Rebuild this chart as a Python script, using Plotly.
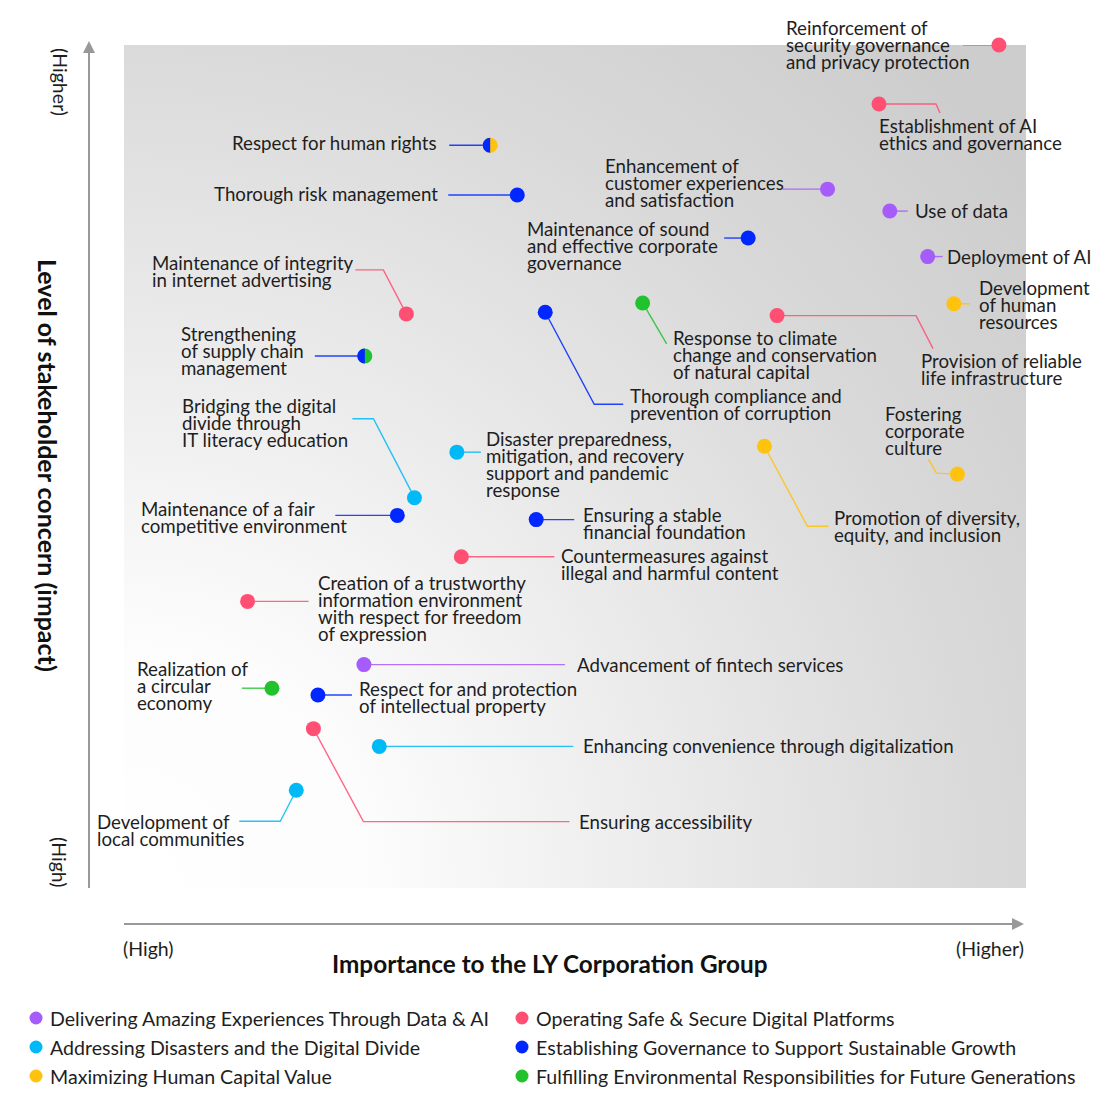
import base64
import plotly.graph_objects as go

# ---------------- data ----------------
names = [
    "Reinforcement of<br>security governance<br>and privacy protection",
    "Establishment of AI<br>ethics and governance",
    "Respect for human rights",
    "Thorough risk management",
    "Enhancement of<br>customer experiences<br>and satisfaction",
    "Use of data",
    "Maintenance of sound<br>and effective corporate<br>governance",
    "Deployment of AI",
    "Maintenance of integrity<br>in internet advertising",
    "Development<br>of human<br>resources",
    "Response to climate<br>change and conservation<br>of natural capital",
    "Provision of reliable<br>life infrastructure",
    "Thorough compliance and<br>prevention of corruption",
    "Strengthening<br>of supply chain<br>management",
    "Bridging the digital<br>divide through<br>IT literacy education",
    "Disaster preparedness,<br>mitigation, and recovery<br>support and pandemic<br>response",
    "Fostering<br>corporate<br>culture",
    "Promotion of diversity,<br>equity, and inclusion",
    "Maintenance of a fair<br>competitive environment",
    "Ensuring a stable<br>financial foundation",
    "Countermeasures against<br>illegal and harmful content",
    "Creation of a trustworthy<br>information environment<br>with respect for freedom<br>of expression",
    "Advancement of fintech services",
    "Realization of<br>a circular<br>economy",
    "Respect for and protection<br>of intellectual property",
    "Ensuring accessibility",
    "Enhancing convenience through digitalization",
    "Development of<br>local communities",
]

# Importance to the LY Corporation Group (0-100)
importance = [97.0, 83.7, 40.6, 43.6, 78.0, 84.9, 69.2, 89.1, 31.3, 92.0,
              57.5, 72.4, 46.7, 26.7, 32.2, 36.9, 92.4, 71.0, 30.3, 45.7,
              37.4, 13.7, 26.6, 16.4, 21.5, 21.0, 28.3, 19.1]
# Level of stakeholder concern (0-100)
concern = [100.0, 93.0, 88.1, 82.2, 82.9, 80.3, 77.1, 74.9, 68.1, 69.3,
           69.4, 67.9, 68.3, 63.1, 46.3, 51.7, 49.1, 52.4, 44.2, 43.7,
           39.3, 34.0, 26.5, 23.7, 22.9, 18.9, 16.8, 11.6]

category = ["safe", "safe", "gov", "gov", "data", "data", "gov", "data", "safe", "human",
            "env", "safe", "gov", "gov", "disaster", "disaster", "human", "human", "gov", "gov",
            "safe", "safe", "data", "env", "gov", "safe", "disaster", "disaster"]
# second theme (right half of the dot) when a topic belongs to two themes
category2 = [None, None, "human", None, None, None, None, None, None, None,
             None, None, None, "env", None, None, None, None, None, None,
             None, None, None, None, None, None, None, None]

legend_keys = ["data", "safe", "disaster", "gov", "human", "env"]
legend_names = {
    "data": "Delivering Amazing Experiences Through Data & AI",
    "safe": "Operating Safe & Secure Digital Platforms",
    "disaster": "Addressing Disasters and the Digital Divide",
    "gov": "Establishing Governance to Support Sustainable Growth",
    "human": "Maximizing Human Capital Value",
    "env": "Fulfilling Environmental Responsibilities for Future Generations",
}

# ---------------- style ----------------
colors = {
    "data": "#a65cfa",
    "safe": "#ff4f73",
    "disaster": "#00baf7",
    "gov": "#0027ff",
    "human": "#ffc20e",
    "env": "#22c22e",
}
FONT = "Lato"
TXT = "#1e1e1e"
LBL_SIZE = 18.7
LEG_SIZE = 19.6
AXL_SIZE = 19.5
TITLE_SIZE = 24.3
YTITLE_SIZE = 25
W, H = 1100, 1110
PAGE_OFF = 8                      # browser page margin
L, R, T, B = 124, 1026, 45, 888   # plot area in screen pixels
SX = (R - L) / 100.0
SY = (B - T) / 100.0
LINE_H = 17

# label layout: (anchor, text offset x, first-line offset y, leader path offsets) in screen pixels
label_layout = [
    ("left", -214, -17, [(0, 0), (-36, 0)]),
    ("left", -1, 22, [(0, 0), (57, 0), (61, 9)]),
    ("right", -52, -2, [(0, 0), (-41, 0)]),
    ("right", -78, -1, [(0, 0), (-69, 0)]),
    ("left", -224, -23, [(0, 0), (-45, 0)]),
    ("left", 24, 0, [(0, 0), (18, 0)]),
    ("left", -222, -9, [(0, 0), (-24, 0)]),
    ("left", 18, 0, [(0, 0), (15, 0)]),
    ("left", -255, -51, [(0, 0), (-23, -44), (-51, -44)]),
    ("left", 24, -16, [(0, 0), (16, 0)]),
    ("left", 29, 35, [(0, 0), (24, 41)]),
    ("left", 143, 45, [(0, 0), (139, 0), (156, 33)]),
    ("left", 84, 84, [(0, 0), (49, 92), (78, 92)]),
    ("left", -185, -22, [(0, 0), (-50, 0)]),
    ("left", -233, -92, [(0, 0), (-41, -79), (-62, -79)]),
    ("left", 28, -13, [(0, 0), (24, 0)]),
    ("left", -73, -60, [(0, 0), (-21, -1), (-29, -15)]),
    ("left", 69, 72, [(0, 0), (43, 80), (64, 80)]),
    ("left", -257, -6, [(0, 0), (-62, 0)]),
    ("left", 46, -5, [(0, 0), (38, 0)]),
    ("left", 99, -1, [(0, 0), (93, 0)]),
    ("left", 69, -18, [(0, 0), (61, 0)]),
    ("left", 212, 0, [(0, 0), (201, 0)]),
    ("left", -136, -19, [(0, 0), (-30, 0)]),
    ("left", 40, -6, [(0, 0), (34, 0)]),
    ("left", 265, 93, [(0, 0), (50, 93), (256, 93)]),
    ("left", 203, 0, [(0, 0), (194, 0)]),
    ("left", -200, 32, [(0, 0), (-16, 31), (-57, 31)]),
]


def px(xp):
    return (xp - L) / (R - L)


def py(yp):
    return (B - yp) / (B - T)


fig = go.Figure()

# background gradient (white lower-left -> grey upper-right)
svg = (
    "<svg xmlns='http://www.w3.org/2000/svg' width='902' height='843' viewBox='0 0 902 843' "
    "preserveAspectRatio='none'><defs><radialGradient id='g' gradientUnits='userSpaceOnUse' "
    "cx='0' cy='843' r='1150'>"
    "<stop offset='0' stop-color='#ffffff'/>"
    "<stop offset='0.22' stop-color='#fcfcfc'/>"
    "<stop offset='0.55' stop-color='#e6e6e6'/>"
    "<stop offset='0.75' stop-color='#d9d9d9'/>"
    "<stop offset='1' stop-color='#cdcdcd'/>"
    "</radialGradient></defs><rect width='902' height='843' fill='url(#g)'/></svg>"
)
bg_src = "data:image/svg+xml;base64," + base64.b64encode(svg.encode()).decode()

# leader lines
for i in range(len(names)):
    anchor, dx, dy, path = label_layout[i]
    xs = [importance[i] + ox / SX for ox, oy in path]
    ys = [concern[i] - oy / SY for ox, oy in path]
    fig.add_trace(go.Scatter(
        x=xs, y=ys, mode="lines", line=dict(color=colors[category[i]], width=1.4),
        opacity=0.85, hoverinfo="skip", showlegend=False, cliponaxis=False))

# dots
for key in legend_keys:
    idx = [i for i in range(len(names)) if (category2[i] or category[i]) == key]
    fig.add_trace(go.Scatter(
        x=[importance[i] for i in idx], y=[concern[i] for i in idx], mode="markers",
        marker=dict(size=15, color=colors[key], line=dict(width=0)),
        hovertext=[names[i].replace("<br>", " ") for i in idx], hoverinfo="text",
        showlegend=False, cliponaxis=False))

shapes = []
annotations = []

# left halves of two-theme dots
k = 0.5523 * 7.5
half = f"M0,-7.5 C{-k},-7.5 -7.5,{-k} -7.5,0 C-7.5,{k} {-k},7.5 0,7.5 Z"
for i in range(len(names)):
    if category2[i]:
        shapes.append(dict(type="path", xref="x", yref="y", xsizemode="pixel", ysizemode="pixel",
                           xanchor=importance[i], yanchor=concern[i], path=half,
                           fillcolor=colors[category[i]], line=dict(width=0), layer="above"))

# labels (one annotation per line for tight line spacing)
for i in range(len(names)):
    anchor, dx, dy, path = label_layout[i]
    for j, line in enumerate(names[i].split("<br>")):
        annotations.append(dict(
            x=importance[i], y=concern[i], xref="x", yref="y", text=line, showarrow=False,
            xanchor=anchor, yanchor="middle", xshift=dx, yshift=-(dy + j * LINE_H),
            borderpad=0, font=dict(family=FONT, size=LBL_SIZE, color=TXT)))

# axis arrows
AX = "#999999"
shapes += [
    dict(type="line", xref="paper", yref="paper", x0=px(89), x1=px(89), y0=py(888), y1=py(52),
         line=dict(color=AX, width=2)),
    dict(type="path", xref="paper", yref="paper",
         path=f"M{px(83)},{py(53)} L{px(95)},{py(53)} L{px(89)},{py(41)} Z",
         fillcolor=AX, line=dict(width=0)),
    dict(type="line", xref="paper", yref="paper", x0=px(124), x1=px(1013), y0=py(924), y1=py(924),
         line=dict(color=AX, width=2)),
    dict(type="path", xref="paper", yref="paper",
         path=f"M{px(1012)},{py(918)} L{px(1012)},{py(930)} L{px(1024)},{py(924)} Z",
         fillcolor=AX, line=dict(width=0)),
]

# axis texts
annotations += [
    dict(x=px(60), y=py(82), xref="paper", yref="paper", text="(Higher)", textangle=90,
         xanchor="center", yanchor="middle",
         showarrow=False, font=dict(family=FONT, size=AXL_SIZE, color=TXT)),
    dict(x=px(60), y=py(862), xref="paper", yref="paper", text="(High)", textangle=90,
         xanchor="center", yanchor="middle",
         showarrow=False, font=dict(family=FONT, size=AXL_SIZE, color=TXT)),
    dict(x=px(48), y=py(465), xref="paper", yref="paper",
         text="<b>Level of stakeholder concern (impact)</b>", textangle=90,
         xanchor="center", yanchor="middle",
         showarrow=False, font=dict(family=FONT, size=YTITLE_SIZE, color="#111111")),
    dict(x=px(121), y=py(948), xref="paper", yref="paper", text="(High)", xanchor="left",
         yanchor="middle",
         showarrow=False, font=dict(family=FONT, size=AXL_SIZE, color=TXT)),
    dict(x=px(1026), y=py(948), xref="paper", yref="paper", text="(Higher)", xanchor="right",
         yanchor="middle",
         showarrow=False, font=dict(family=FONT, size=AXL_SIZE, color=TXT)),
    dict(x=px(550), y=py(963), xref="paper", yref="paper",
         text="<b>Importance to the LY Corporation Group</b>", xanchor="center", yanchor="middle",
         showarrow=False, font=dict(family=FONT, size=TITLE_SIZE, color="#111111")),
]

# legend
leg_x = [36, 522]
leg_y = [1018, 1047, 1076]
for n, key in enumerate(legend_keys):
    cx = leg_x[n % 2]
    cy = leg_y[n // 2]
    shapes.append(dict(type="circle", xref="paper", yref="paper", xsizemode="pixel", ysizemode="pixel",
                       xanchor=px(cx), yanchor=py(cy), x0=-6.5, x1=6.5, y0=-6.5, y1=6.5,
                       fillcolor=colors[key], line=dict(width=0)))
    annotations.append(dict(x=px(cx + 13), y=py(cy), xref="paper", yref="paper",
                            text=legend_names[key], xanchor="left", yanchor="middle",
                            showarrow=False, borderpad=0,
                            font=dict(family=FONT, size=LEG_SIZE, color=TXT)))

fig.update_layout(
    width=W, height=H, autosize=False,
    margin=dict(l=L - PAGE_OFF, r=W - R + PAGE_OFF, t=T - PAGE_OFF, b=H - B + PAGE_OFF, pad=0),
    paper_bgcolor="white", plot_bgcolor="rgba(0,0,0,0)",
    xaxis=dict(range=[0, 100], visible=False, fixedrange=True),
    yaxis=dict(range=[0, 100], visible=False, fixedrange=True),
    images=[dict(source=bg_src, xref="paper", yref="paper", x=0, y=1, sizex=1, sizey=1,
                 sizing="stretch", xanchor="left", yanchor="top", layer="below")],
    shapes=shapes, annotations=annotations, showlegend=False,
    font=dict(family=FONT, color=TXT),
)

fig.write_html("out.html")
